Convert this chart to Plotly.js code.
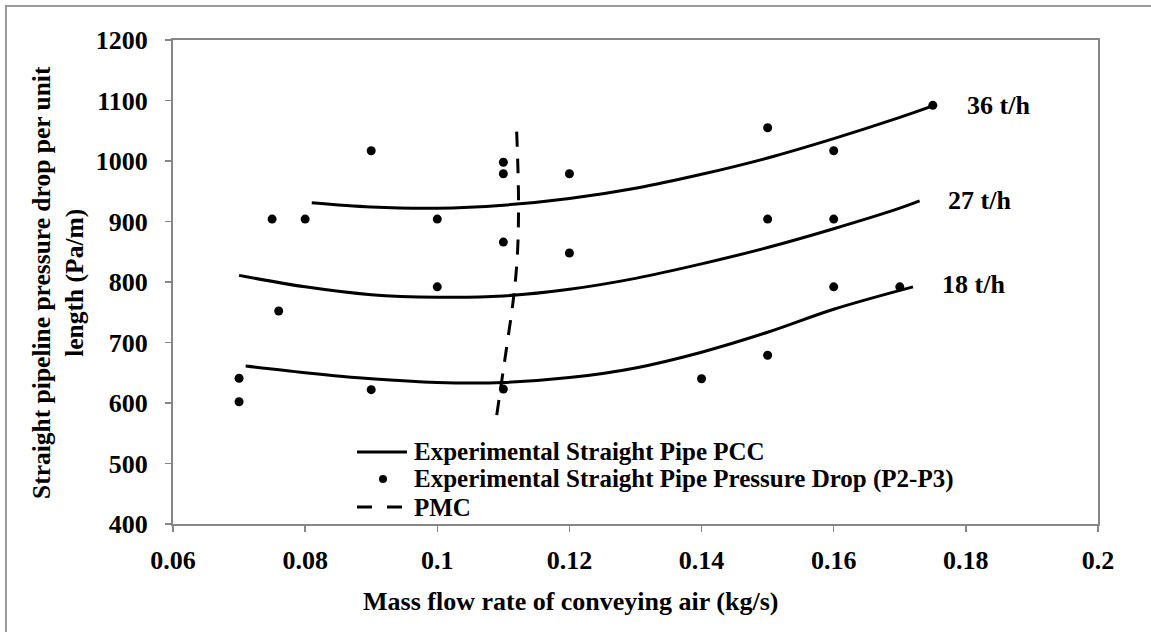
<!DOCTYPE html>
<html>
<head>
<meta charset="utf-8">
<script src="https://cdn.plot.ly/plotly-3.0.1.min.js"></script>
<style>
  html, body { margin: 0; padding: 0; background: #fff; }
  #chart { width: 1151px; height: 632px; }
</style>
</head>
<body>
<div id="chart"></div>
<script>
// Measured pressure drop points (P2-P3)
const pointX = [0.07, 0.07, 0.075, 0.076, 0.08, 0.09, 0.09, 0.1, 0.1, 0.11, 0.11, 0.11, 0.11, 0.12, 0.12, 0.14, 0.15, 0.15, 0.15, 0.16, 0.16, 0.16, 0.17, 0.175];
const pointY = [641, 602, 904, 752, 904, 1017, 622, 904, 792, 998, 979, 866, 623, 979, 848, 640, 1055, 904, 679, 1017, 904, 792, 792, 1092];

// Pressure characteristic curves (PCC) for each solids feed rate
const pcc36X = [0.081, 0.09, 0.1, 0.11, 0.12, 0.13, 0.14, 0.15, 0.16, 0.17, 0.175];
const pcc36Y = [931, 924, 922, 927, 938, 955, 978, 1005, 1037, 1072, 1091];
const pcc27X = [0.07, 0.08, 0.09, 0.1, 0.11, 0.12, 0.13, 0.14, 0.15, 0.16, 0.17, 0.173];
const pcc27Y = [811, 792, 779, 775, 777, 788, 806, 830, 857, 888, 922, 934];
const pcc18X = [0.071, 0.08, 0.09, 0.1, 0.11, 0.12, 0.13, 0.14, 0.15, 0.16, 0.172];
const pcc18Y = [661, 650, 640, 634, 634, 642, 658, 684, 717, 755, 792];

// Pressure minimum curve (PMC)
const pmcX = [0.109, 0.1098, 0.1106, 0.1115, 0.1121, 0.1123, 0.1122, 0.112];
const pmcY = [580, 640, 700, 770, 840, 920, 990, 1052];

// Curve labels and axis ticks
const curveLabels = ['36 t/h', '27 t/h', '18 t/h'];
const xTickVals = [0.06, 0.08, 0.1, 0.12, 0.14, 0.16, 0.18, 0.2];
const xTickText = ['0.06', '0.08', '0.1', '0.12', '0.14', '0.16', '0.18', '0.2'];
const yTickVals = [400, 500, 600, 700, 800, 900, 1000, 1100, 1200];
const yTickText = ['400', '500', '600', '700', '800', '900', '1000', '1100', '1200'];

const legendText = [
  'Experimental Straight Pipe PCC',
  'Experimental Straight Pipe Pressure Drop (P2-P3)',
  'PMC'
];
const xTitle = 'Mass flow rate of conveying air (kg/s)';
const yTitle = 'Straight pipeline pressure drop per unit<br>length (Pa/m)';

const FONT = 'Liberation Serif, Times New Roman, serif';
const LINE_W = 3;

function curve(x, y) {
  return {
    x: x, y: y, type: 'scatter', mode: 'lines',
    line: { color: '#000', width: LINE_W, shape: 'spline', smoothing: 1 },
    showlegend: false, hoverinfo: 'skip'
  };
}

const traces = [
  curve(pcc36X, pcc36Y),
  curve(pcc27X, pcc27Y),
  curve(pcc18X, pcc18Y),
  {
    x: pmcX, y: pmcY, type: 'scatter', mode: 'lines',
    line: { color: '#000', width: LINE_W, dash: '15px,12px', shape: 'spline' },
    showlegend: false, hoverinfo: 'skip'
  },
  {
    x: pointX, y: pointY, type: 'scatter', mode: 'markers',
    marker: { color: '#000', size: 9, symbol: 'circle' },
    showlegend: false
  }
];

// plot area in pixels: left 173, right 1098, top 40, bottom 524
const L = 173, T = 40, W = 925, H = 484;
const px = v => (v - L) / W;
const py = v => (T + H - v) / H;

const labelFont = { family: FONT, size: 26, color: '#000', weight: 'bold' };
const legendFont = { family: FONT, size: 25, color: '#000', weight: 'bold' };

const annotations = [
  { x: 0.1849, y: 1091, xref: 'x', yref: 'y', text: curveLabels[0], showarrow: false, font: labelFont, xanchor: 'center', yanchor: 'middle' },
  { x: 0.1821, y: 934, xref: 'x', yref: 'y', text: curveLabels[1], showarrow: false, font: labelFont, xanchor: 'center', yanchor: 'middle' },
  { x: 0.1811, y: 796, xref: 'x', yref: 'y', text: curveLabels[2], showarrow: false, font: labelFont, xanchor: 'center', yanchor: 'middle' },
  { x: px(570), y: py(601), xref: 'paper', yref: 'paper', text: xTitle, showarrow: false, font: labelFont, xanchor: 'center', yanchor: 'middle' },
  { x: px(58), y: py(283), xref: 'paper', yref: 'paper', text: yTitle, showarrow: false, font: { family: FONT, size: 25.5, color: '#000', weight: 'bold' }, textangle: -90, xanchor: 'center', yanchor: 'middle' },
  { x: px(412), y: py(451), xref: 'paper', yref: 'paper', text: legendText[0], showarrow: false, font: legendFont, xanchor: 'left', yanchor: 'middle' },
  { x: px(412), y: py(479), xref: 'paper', yref: 'paper', text: legendText[1], showarrow: false, font: legendFont, xanchor: 'left', yanchor: 'middle' },
  { x: px(412), y: py(507), xref: 'paper', yref: 'paper', text: legendText[2], showarrow: false, font: legendFont, xanchor: 'left', yanchor: 'middle' }
];

const shapes = [
  // outer chart border (top and left edges)
  { type: 'path', xref: 'paper', yref: 'paper',
    path: `M ${px(6)} ${py(645)} L ${px(6)} ${py(6)} L ${px(1165)} ${py(6)}`,
    line: { color: '#9a9a9a', width: 2 } },
  // legend key: solid line
  { type: 'line', xref: 'paper', yref: 'paper', x0: px(357), x1: px(407), y0: py(452), y1: py(452),
    line: { color: '#000', width: LINE_W } },
  // legend key: dot
  { type: 'circle', xref: 'paper', yref: 'paper', x0: px(379), x1: px(387), y0: py(475), y1: py(483),
    fillcolor: '#000', line: { color: '#000', width: 0 } },
  // legend key: dashed line
  { type: 'line', xref: 'paper', yref: 'paper', x0: px(357), x1: px(402), y0: py(507), y1: py(507),
    line: { color: '#000', width: LINE_W, dash: '15px,15px' } }
];

const axisCommon = {
  showgrid: false, zeroline: false,
  showline: true, mirror: true, linecolor: '#868686', linewidth: 2,
  ticks: 'outside', ticklen: 6, tickwidth: 1.5, tickcolor: '#868686',
  tickfont: { family: FONT, size: 26, color: '#000', weight: 'bold' },
  tickmode: 'array', fixedrange: true
};

const layout = {
  width: 1151, height: 632,
  margin: { l: L, r: 1151 - L - W, t: T, b: 632 - T - H },
  paper_bgcolor: '#fff', plot_bgcolor: '#fff',
  showlegend: false,
  xaxis: Object.assign({}, axisCommon, {
    range: [0.06, 0.2], tickvals: xTickVals, ticktext: xTickText, ticklabelstandoff: 6
  }),
  yaxis: Object.assign({}, axisCommon, {
    range: [400, 1200], tickvals: yTickVals, ticktext: yTickText, ticklabelstandoff: 12
  }),
  annotations: annotations,
  shapes: shapes
};

Plotly.newPlot('chart', traces, layout, { staticPlot: true, displayModeBar: false });
</script>
</body>
</html>
